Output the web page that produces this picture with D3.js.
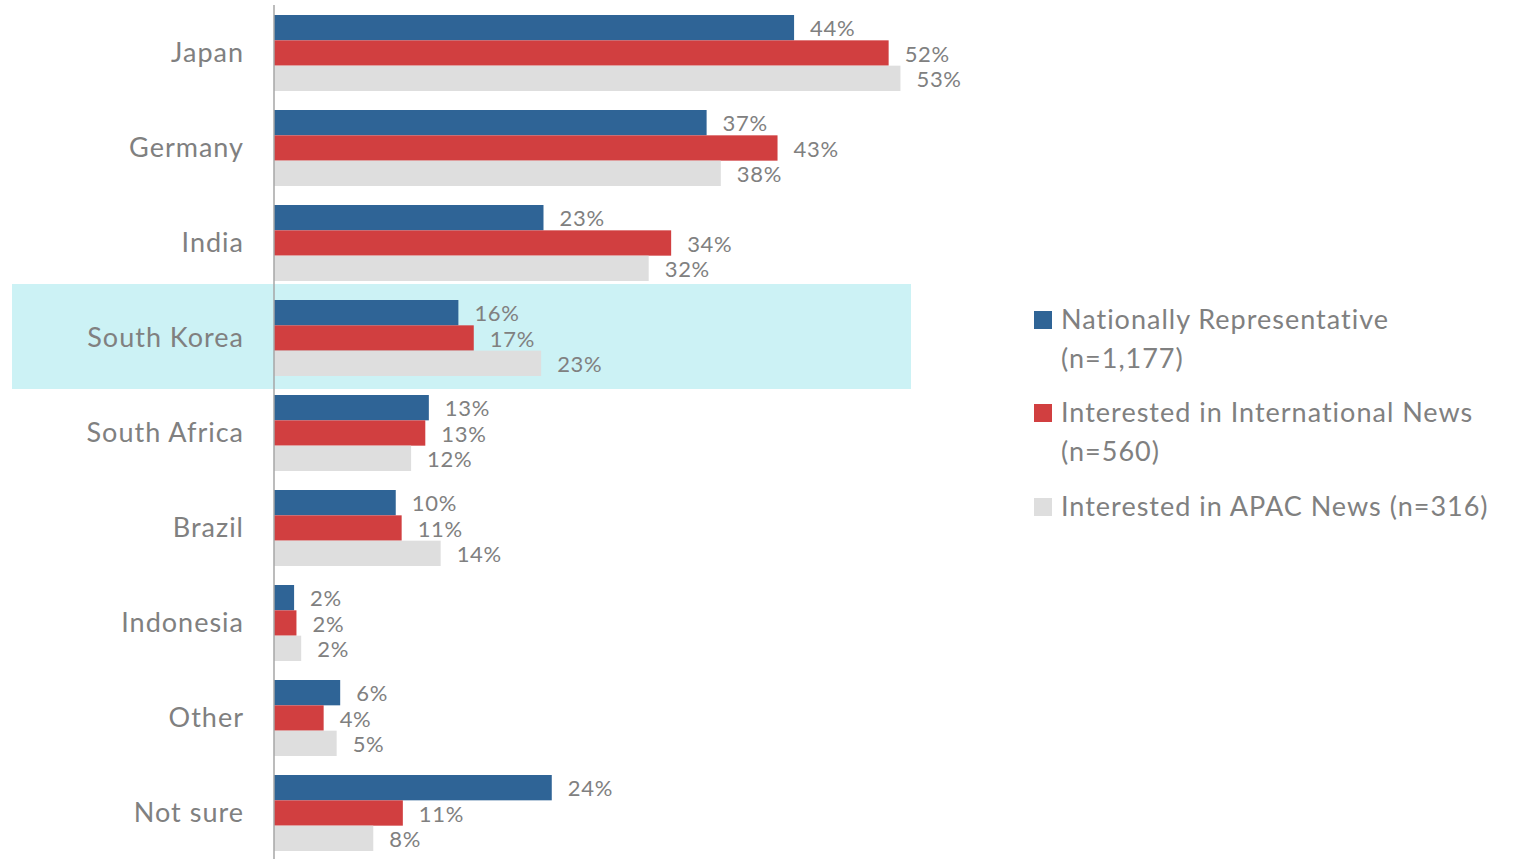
<!DOCTYPE html>
<html>
<head>
<meta charset="utf-8">
<script src="https://cdn.jsdelivr.net/npm/d3@7"></script>
<style>
  body { margin: 0; background: #fff; }
  svg { display: block; font-family: Lato, "Open Sans", sans-serif; }
</style>
</head>
<body>
<svg id="chart" width="1516" height="859"></svg>
<script>
// categories and series (percent)
const countries = ["Japan", "Germany", "India", "South Korea", "South Africa", "Brazil", "Indonesia", "Other", "Not sure"];
const nationalRep = [44.0, 36.6, 22.8, 15.6, 13.1, 10.3, 1.7, 5.6, 23.5];
const intlNews    = [52.0, 42.6, 33.6, 16.9, 12.8, 10.8, 1.9, 4.2, 10.9];
const apacNews    = [53.0, 37.8, 31.7, 22.6, 11.6, 14.1, 2.3, 5.3, 8.4];
const legendLines = [["Nationally Representative", "(n=1,177)"], ["Interested in International News", "(n=560)"], ["Interested in APAC News (n=316)"]];
const colors = ["#2f6496", "#d13f40", "#dedede"];
const highlight = "South Korea";

const series = [nationalRep, intlNews, apacNews];
const svg = d3.select("#chart");
const textColor = "#808080";

const x0 = 274;
const x = d3.scaleLinear().domain([0, 53]).range([x0, x0 + 53 * 11.82]);

const y = d3.scaleBand()
  .domain(countries)
  .range([5.5, 860.5])
  .paddingInner(0.2)
  .paddingOuter(0.1);

const ySub = d3.scaleBand()
  .domain(d3.range(series.length))
  .range([0, y.bandwidth()]);

// highlight band
svg.append("rect")
  .attr("x", 12)
  .attr("y", y(highlight) + y.bandwidth() / 2 - 54)
  .attr("width", 899)
  .attr("height", 105)
  .attr("fill", "#ccf2f5");

// groups
const groups = svg.selectAll(".grp")
  .data(countries)
  .join("g")
  .attr("class", "grp")
  .attr("transform", (d) => `translate(0,${y(d)})`);

groups.selectAll("rect")
  .data((d, i) => series.map((s, k) => ({ k, v: s[i] })))
  .join("rect")
  .attr("x", x(0))
  .attr("y", (d) => ySub(d.k))
  .attr("width", (d) => x(d.v) - x(0))
  .attr("height", ySub.bandwidth())
  .attr("fill", (d) => colors[d.k]);

groups.selectAll("text.val")
  .data((d, i) => series.map((s, k) => ({ k, v: s[i] })))
  .join("text")
  .attr("class", "val")
  .attr("x", (d) => x(d.v) + 16)
  .attr("y", (d) => ySub(d.k) + ySub.bandwidth() / 2 + 1)
  .attr("dy", "0.35em")
  .attr("fill", textColor)
  .style("font-size", "22px")
  .style("letter-spacing", "0.7px")
  .text((d) => Math.round(d.v) + "%");

// category axis
const yAxis = d3.axisLeft(y).tickSize(0).tickPadding(30);
const gAxis = svg.append("g")
  .attr("transform", `translate(${x0},0)`)
  .call(yAxis);
gAxis.select(".domain").remove();
gAxis.selectAll("text")
  .attr("fill", textColor)
  .style("font-size", "27px")
  .style("letter-spacing", "1px")
  .style("font-family", "Lato, 'Open Sans', sans-serif");

svg.append("line")
  .attr("x1", x0).attr("x2", x0)
  .attr("y1", 5).attr("y2", 859)
  .attr("stroke", "#a6a6a6")
  .attr("stroke-width", 1.5);

// legend
const legendY = [320, 413, 507];
const legend = svg.selectAll(".leg")
  .data(legendLines)
  .join("g")
  .attr("class", "leg")
  .attr("transform", (d, i) => `translate(1034,${legendY[i]})`);

legend.append("rect")
  .attr("x", 0).attr("y", -9)
  .attr("width", 18).attr("height", 18)
  .attr("fill", (d, i) => colors[i]);

legend.append("text")
  .attr("fill", textColor)
  .style("font-size", "27px")
  .style("letter-spacing", "1px")
  .selectAll("tspan")
  .data((d) => d)
  .join("tspan")
  .attr("x", 27)
  .attr("y", (d, j) => j * 39)
  .attr("dy", "0.35em")
  .text((d) => d);
</script>
</body>
</html>
